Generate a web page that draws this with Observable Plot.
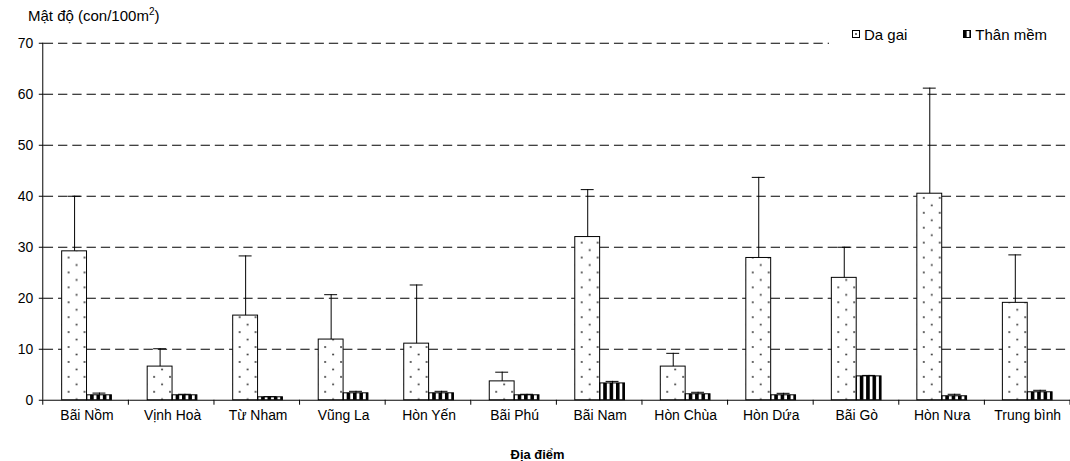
<!DOCTYPE html>
<html><head><meta charset="utf-8">
<script src="https://cdn.jsdelivr.net/npm/d3@7"></script>
<script src="https://cdn.jsdelivr.net/npm/@observablehq/plot@0.6"></script>
<style>
html,body{margin:0;padding:0;background:#fff;overflow:hidden;}
#wrap{position:relative;width:1070px;height:461px;overflow:hidden;font-family:"Liberation Sans",Arial,sans-serif;color:#000;}
#ytitle{position:absolute;left:28px;top:6px;font-size:15px;white-space:nowrap;}
#ytitle sup{font-size:10px;}
#legend{position:absolute;left:829px;top:20px;width:250px;height:28px;background:#fff;font-size:15px;display:flex;align-items:center;}
#legend .item{display:flex;align-items:center;white-space:nowrap;}
#legend svg{margin-right:3px;}
</style>
</head><body>
<svg width="0" height="0" style="position:absolute">
  <defs>
    <pattern id="dots" patternUnits="userSpaceOnUse" width="16" height="15">
      <rect width="16" height="15" fill="#fff"/>
      <circle cx="4" cy="4" r="0.9" fill="#222"/>
      <circle cx="12" cy="11.5" r="0.9" fill="#222"/>
    </pattern>
    <pattern id="stripes" patternUnits="userSpaceOnUse" width="6.4" height="10">
      <rect width="6.4" height="10" fill="#fff"/>
      <rect width="3.6" height="10" fill="#000"/>
    </pattern>
  </defs>
</svg>
<div id="wrap">
  <div id="chart"></div>
  <div id="ytitle">Mật độ (con/100m<sup>2</sup>)</div>
  <div id="legend"></div>
</div>
<script>
const sites = ["Bãi Nồm", "Vịnh Hoà", "Từ Nham", "Vũng La", "Hòn Yến", "Bãi Phú", "Bãi Nam", "Hòn Chùa", "Hòn Dứa", "Bãi Gò", "Hòn Nưa", "Trung bình"];
const series = ["Da gai", "Thân mềm"];
const daGai = [29.2, 6.6, 16.6, 11.9, 11.1, 3.7, 32.0, 6.6, 27.9, 24.0, 40.5, 19.1];
const daGaiErr = [40.0, 10.1, 28.3, 20.7, 22.6, 5.5, 41.3, 9.2, 43.7, 30.0, 61.2, 28.5];
const thanMem = [0.97, 0.97, 0.58, 1.36, 1.36, 0.97, 3.3, 1.17, 0.97, 4.68, 0.78, 1.56];
const thanMemErr = [1.4, 1.17, 0.71, 1.75, 1.75, 1.17, 3.7, 1.56, 1.36, 4.87, 1.17, 1.95];
const yTicks = [0, 10, 20, 30, 40, 50, 60, 70];
const patterns = ["url(#dots)", "url(#stripes)"];

const data = sites.flatMap((s, i) => [
  {site: s, series: series[0], value: daGai[i], err: daGaiErr[i]},
  {site: s, series: series[1], value: thanMem[i], err: thanMemErr[i]}
]);

const plot = Plot.plot({
  width: 1076, height: 461,
  marginLeft: 43, marginRight: 0, marginTop: 43, marginBottom: 59,
  style: {fontFamily: "Liberation Sans, Arial, sans-serif", fontSize: "14px", color: "#000", background: "transparent", overflow: "visible"},
  fx: {domain: sites, padding: 0, label: "Địa điểm", labelAnchor: "center", tickSize: 0, tickPadding: 10, axis: "bottom"},
  x: {domain: series, axis: null, paddingInner: 0, paddingOuter: 0.72, align: 0.5},
  y: {domain: [0, 70], ticks: yTicks, tickSize: 5, tickPadding: 6, label: null},
  color: {domain: series, range: patterns},
  marks: [
    Plot.ruleY(yTicks.filter(t => t > 0), {stroke: "#000", strokeWidth: 1, strokeDasharray: "9.35,5"}),
    Plot.ruleY([0], {stroke: "#000"}),
    Plot.barY(data, {fx: "site", x: "series", y: "value", fill: "series", stroke: "#000", strokeWidth: 1}),
    Plot.ruleX(data, {fx: "site", x: "series", y1: "value", y2: "err", stroke: "#000"}),
    Plot.tickY(data, {fx: "site", x: "series", y: "err", stroke: "#000", insetLeft: 6, insetRight: 6})
  ]
});

// axis lines and category boundary ticks from the plot's own scales
const fxS = plot.scale("fx"), yS = plot.scale("y");
const step = (fxS.range[1] - fxS.range[0]) / sites.length;
const y0 = yS.apply(0), yTop = yS.apply(70);
const gx = d3.select(plot).append("g").attr("stroke", "#000").attr("stroke-width", 1);
gx.append("line").attr("x1", fxS.range[0]).attr("x2", fxS.range[0]).attr("y1", y0).attr("y2", yTop);
d3.range(sites.length + 1).forEach(k => {
  const x = fxS.range[0] + k * step;
  gx.append("line").attr("x1", x).attr("x2", x).attr("y1", y0).attr("y2", y0 + 5);
});
d3.select(plot).selectAll('g[aria-label="fx-axis label"]')
  .attr("transform", function() { return (this.getAttribute("transform") || "") + " translate(-20,3)"; })
  .selectAll("text").attr("font-weight", "bold").attr("font-size", "13px");

document.getElementById("chart").appendChild(plot);

// legend
const leg = d3.select("#legend");
series.forEach((s, i) => {
  const it = leg.append("div").attr("class", "item").style("margin-left", i === 0 ? "23px" : "56px");
  const sv = it.append("svg").attr("width", 9).attr("height", 9);
  sv.append("rect").attr("x", 0.5).attr("y", 0.5).attr("width", 7).attr("height", 7)
    .attr("fill", patterns[i]).attr("stroke", "#000");
  it.append("span").text(s);
});
</script>
</body></html>
